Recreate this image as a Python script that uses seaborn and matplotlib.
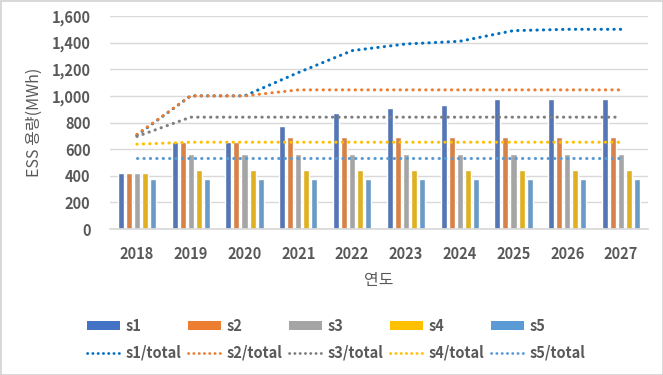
import numpy as np
import pandas as pd
import seaborn as sns
import matplotlib.pyplot as plt
from matplotlib.patches import Patch
from matplotlib.lines import Line2D

years = ["2018", "2019", "2020", "2021", "2022", "2023", "2024", "2025", "2026", "2027"]

s1 = [420, 655, 655, 775, 875, 910, 935, 980, 980, 980]
s2 = [420, 655, 655, 690, 690, 690, 690, 690, 690, 690]
s3 = [420, 565, 565, 565, 565, 565, 565, 565, 565, 565]
s4 = [420, 440, 440, 440, 440, 440, 440, 440, 440, 440]
s5 = [375, 375, 375, 375, 375, 375, 375, 375, 375, 375]

s1_total = [705, 1000, 1000, 1175, 1340, 1390, 1410, 1490, 1500, 1500]
s2_total = [710, 1000, 1000, 1045, 1045, 1045, 1045, 1045, 1045, 1045]
s3_total = [695, 840, 840, 840, 840, 840, 840, 840, 840, 840]
s4_total = [637, 652, 652, 652, 652, 652, 652, 652, 652, 652]
s5_total = [532, 532, 532, 532, 532, 532, 532, 532, 532, 532]

bar_names = ["s1", "s2", "s3", "s4", "s5"]
line_names = ["s1/total", "s2/total", "s3/total", "s4/total", "s5/total"]
bar_colors = ["#4472C4", "#ED7D31", "#A5A5A5", "#FFC000", "#5B9BD5"]
line_colors = ["#0070C0", "#ED7D31", "#7F7F7F", "#FFC000", "#5B9BD5"]

sns.set_theme(style="white")
plt.rcParams["font.family"] = ["Noto Sans CJK KR", "DejaVu Sans"]
txt = "#595959"

bars_df = pd.concat(
    [pd.DataFrame({"year": years, "value": v, "series": n})
     for n, v in zip(bar_names, [s1, s2, s3, s4, s5])],
    ignore_index=True)
lines_df = pd.concat(
    [pd.DataFrame({"pos": np.arange(len(years)), "value": v, "series": n})
     for n, v in zip(line_names, [s1_total, s2_total, s3_total, s4_total, s5_total])],
    ignore_index=True)

fig = plt.figure(figsize=(6.63, 3.75), dpi=100, linewidth=1, edgecolor="#D9D9D9")
ax = fig.add_axes([110 / 663, 1 - 229 / 375, 538 / 663, 213 / 375])

sns.barplot(data=bars_df, x="year", y="value", hue="series", palette=bar_colors,
            width=0.75, gap=0.25, ax=ax, legend=False, zorder=2)

for n, c in zip(line_names, line_colors):
    sns.lineplot(data=lines_df[lines_df["series"] == n], x="pos", y="value", color=c,
                 lw=2.2, linestyle=(0, (0.1, 2.0)), dash_capstyle="round",
                 ax=ax, legend=False, zorder=3)

ax.set_xlim(-0.5, 9.5)
ax.set_ylim(0, 1600)
ax.set_yticks(range(0, 1601, 200))
ax.set_yticklabels([f"{v:,}" for v in range(0, 1601, 200)])
ax.set_xticks(range(len(years)))
ax.set_xticklabels(years)
ax.grid(axis="y", color="#D9D9D9", lw=1, zorder=0)
ax.set_axisbelow(True)
for s in ["top", "right", "left"]:
    ax.spines[s].set_visible(False)
ax.spines["bottom"].set_color("#D9D9D9")
ax.tick_params(axis="both", length=0, colors=txt, labelsize=10.5)
ax.tick_params(axis="y", pad=14)
ax.tick_params(axis="x", pad=12)
for lab in ax.get_xticklabels() + ax.get_yticklabels():
    lab.set_fontweight("bold")

ax.set_xlabel("연도", color=txt, fontsize=11.5)
ax.set_ylabel("ESS 용량(MWh)", color=txt, fontsize=11.5)
ax.xaxis.set_label_coords(0.5, -(272 - 229) / 213)
ax.yaxis.set_label_coords(-(110 - 43) / 538, 0.5)

handles = []
for bn, bc, ln, lc in zip(bar_names, bar_colors, line_names, line_colors):
    handles.append(Patch(facecolor=bc, edgecolor="none", label=bn))
    handles.append(Line2D([], [], color=lc, lw=2, linestyle=(0, (0.1, 1.8)),
                          dash_capstyle="round", label=ln))
leg = fig.legend(handles=handles, ncol=5, loc="center", bbox_to_anchor=(336 / 663, 1 - 339.5 / 375),
                 frameon=False, handlelength=2.3, handleheight=0.55, handletextpad=0.35,
                 columnspacing=0.45, labelspacing=0.75, prop={"weight": "bold", "size": 10.5})
for t in leg.get_texts():
    t.set_color(txt)

fig.savefig("out.png", dpi=100)
